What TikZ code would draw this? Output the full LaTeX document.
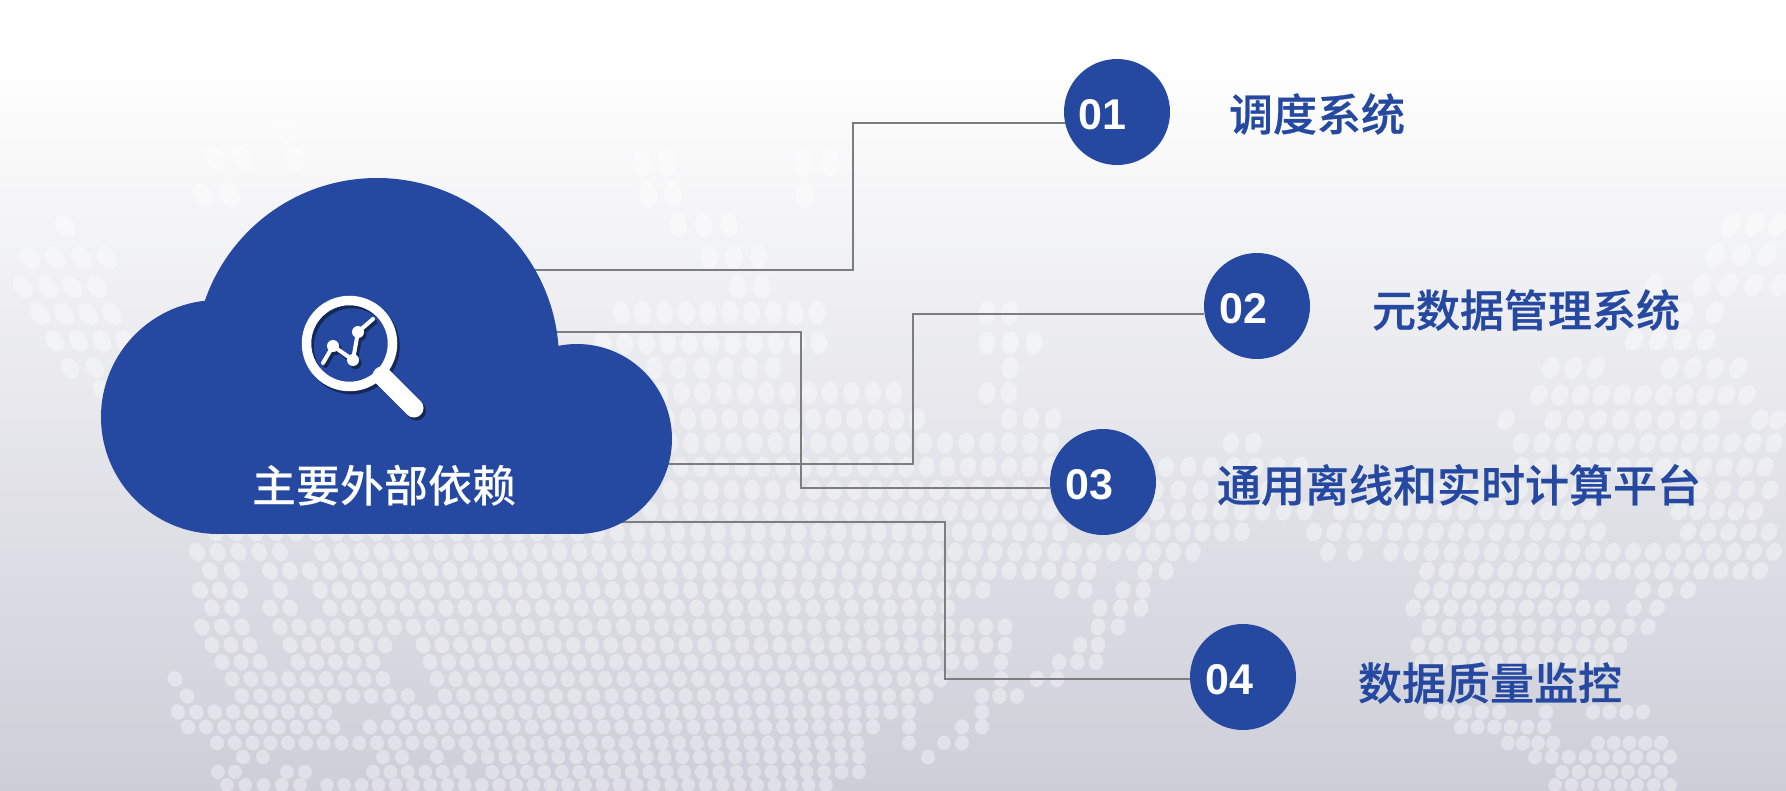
\documentclass[tikz,border=0pt]{standalone}
\usepackage{fontspec}
\setmainfont{Liberation Sans}
\newfontfamily\cjkfont{Noto Sans CJK SC Medium}
\newfontfamily\cjkheavy{Noto Sans CJK SC Medium}[FakeBold=0.6]
\usetikzlibrary{backgrounds}
\definecolor{cloudblue}{RGB}{37,72,160}
\definecolor{bgbottom}{RGB}{205,206,216}
\definecolor{linkgray}{RGB}{125,125,128}
\tikzset{
  numcircle/.style = {circle, fill=cloudblue, minimum size=106pt, inner sep=0pt},
  numtext/.style = {font=\fontsize{43}{43}\selectfont\bfseries, text=white, inner sep=0pt},
  itemtext/.style = {font=\cjkheavy\fontsize{44}{44}\selectfont, text=cloudblue, inner sep=0pt},
  cloudtext/.style = {font=\cjkfont\fontsize{44}{44}\selectfont, text=white, inner sep=0pt},
  link/.style = {draw=linkgray, line width=2pt},
  mapdot/.style = {fill=white, fill opacity=0.38},
  lens/.pic = {
    \draw[line width=9.5pt, draw=#1] (349.5,343.5) circle (43);
    \draw[line width=19pt, line cap=round, draw=#1] (382,376) -- (414,408);
    \draw[line width=4pt, line cap=round, line join=round, draw=#1]
      (323,363) -- (333,346) -- (353,360) -- (358,332) -- (373,319);
    \foreach \p in {(333,346),(353,360),(358,332)}
      \fill[#1] \p circle (6);
  }
}
\begin{document}
\begin{tikzpicture}[x=1pt, y=-1pt]
  \useasboundingbox (0,0) rectangle (1786,790);

  % numbered circles
  \node[numcircle] (c1) at (1117,112) {};
  \node[numcircle] (c2) at (1257,306) {};
  \node[numcircle] (c3) at (1103,482) {};
  \node[numcircle] (c4) at (1243,677) {};
  \node[numtext] (n1) at (1102,115) {01};
  \node[numtext] (n2) at (1243,309) {02};
  \node[numtext] (n3) at (1089,485) {03};
  \node[numtext] (n4) at (1229,680) {04};

  % labels
  \node[itemtext] (t1) at (1317,114) {调度系统};
  \node[itemtext] (t2) at (1526,310) {元数据管理系统};
  \node[itemtext] (t3) at (1459,485) {通用离线和实时计算平台};
  \node[itemtext] (t4) at (1490,683) {数据质量监控};
  \node[cloudtext] (main) at (384.5,486) {主要外部依赖};

  % icon on the cloud
  \path (2.5,3) pic {lens={black!45!cloudblue}};
  \path (0,0) pic {lens=white};

  % where the lines leave the cloud and turn
  \coordinate (s1) at (520,270);
  \coordinate (s2) at (640,464);
  \coordinate (s3) at (540,332);
  \coordinate (s4) at (600,522);
  \coordinate (b1) at (853,270);
  \coordinate (b2) at (913,464);
  \coordinate (b3) at (801,332);
  \coordinate (b4) at (945,522);

  \begin{scope}[on background layer]
    \fill[white] (0,0) rectangle (1786,790);
    \shade[top color=white, bottom color=bgbottom] (0,60) rectangle (1786,790);

    % world map, one entry per run of dots: y / first x / last x
    \begin{scope}
      \clip (0,0) rectangle (1786,790);
      \foreach \ry/\xa/\xb in {
        132/285/285, 158/215/243, 158/295/295, 195/203/230, 226/65/65,
        258/30/107, 287/23/97, 314/40/112, 341/55/125, 368/70/95, 390/102/102,
        163/642/667, 163/803/830, 195/648/673, 195/805/805, 225/678/729,
        257/709/759, 286/738/762, 313/621/817, 313/987/1010, 343/603/819,
        343/987/1034, 368/655/773, 368/1010/1010, 393/660/894, 393/987/1009,
        419/667/917, 419/1009/1053, 443/670/1051, 443/1231/1253,
        225/1731/1778, 255/1715/1767, 285/1654/1654, 285/1702/1780,
        313/1684/1715, 340/1634/1706, 368/1551/1596, 368/1670/1738,
        395/1539/1747, 420/1506/1506, 420/1553/1711, 420/1760/1778,
        443/1521/1774, 467/660/1050, 467/1166/1300, 467/1521/1765,
        490/670/1060, 490/1156/1290, 490/1380/1600, 490/1700/1770,
        511/650/1050, 511/1157/1305, 511/1341/1589, 511/1679/1755,
        532/215/1060, 532/1143/1242, 532/1314/1598, 532/1688/1769,
        552/197/280, 552/322/1193, 552/1328/1355, 552/1391/1774,
        571/210/232, 571/270/1089, 571/1145/1166, 571/1427/1760,
        590/200/240, 590/280/280, 590/320/983, 590/1062/1085, 590/1123/1143,
        590/1422/1571, 590/1643/1688,
        608/212/232, 608/270/290, 608/330/948, 608/1100/1141, 608/1413/1602,
        608/1634/1657,
        627/202/242, 627/280/1005, 627/1098/1118, 627/1429/1648,
        645/212/250, 645/290/385, 645/423/1005, 645/1080/1098, 645/1418/1620,
        662/222/260, 662/298/373, 662/430/971, 662/1001/1001, 662/1059/1096,
        662/1422/1607,
        679/175/175, 679/232/383, 679/437/941, 679/1001/1001, 679/1037/1057,
        696/187/187, 696/242/408, 696/445/926, 696/982/1017,
        712/178/325, 712/398/909, 712/982/982, 712/1431/1499, 712/1546/1546,
        712/1593/1643,
        727/188/333, 727/370/873, 727/909/909, 727/962/982, 727/1461/1544,
        743/217/857, 743/909/909, 743/944/962, 743/1508/1553, 743/1598/1661,
        757/243/263, 757/383/402, 757/437/437, 757/470/859, 757/928/928,
        757/1535/1670,
        772/218/235, 772/287/305, 772/373/460, 772/492/859, 772/1562/1661,
        785/227/300, 785/327/826, 785/1555/1670} {
        \pgfmathsetmacro\gap{23-(\ry-300)*0.012}
        \pgfmathtruncatemacro\cnt{round((\xb-\xa)/\gap)}
        \pgfmathsetmacro\pitch{(\xb-\xa)/max(\cnt,1)}
        \pgfmathsetmacro\rx{9-(\ry-160)*0.0035}
        \pgfmathsetmacro\rz{13.5-(\ry-160)*0.0105}
        \foreach \i in {0,...,\cnt} {
          \pgfmathsetmacro\px{\xa+\i*\pitch}
          \pgfmathsetmacro\tilt{\px<800 ? (800-\px)*0.05 : (800-\px)*0.033}
          \fill[mapdot] (\px,\ry) ellipse [x radius=\rx, y radius=\rz, rotate=\tilt];
        }
      }
    \end{scope}

    % connectors
    \draw[link] (s1) -- (b1) |- (c1.192);
    \draw[link] (s2) -- (b2) |- (c2.189);
    \draw[link] (s3) -- (b3) |- (c3.186);
    \draw[link] (s4) -- (b4) |- (c4.182);

    % cloud
    \fill[cloudblue] (218,417) circle (117);
    \begin{scope}
      \clip (0,0) rectangle (1786,530);
      \fill[cloudblue] (377,360) circle (182);
    \end{scope}
    \fill[cloudblue] (577,439) circle (95);
    \fill[cloudblue] (218,400) rectangle (577,534);
  \end{scope}
\end{tikzpicture}
\end{document}
